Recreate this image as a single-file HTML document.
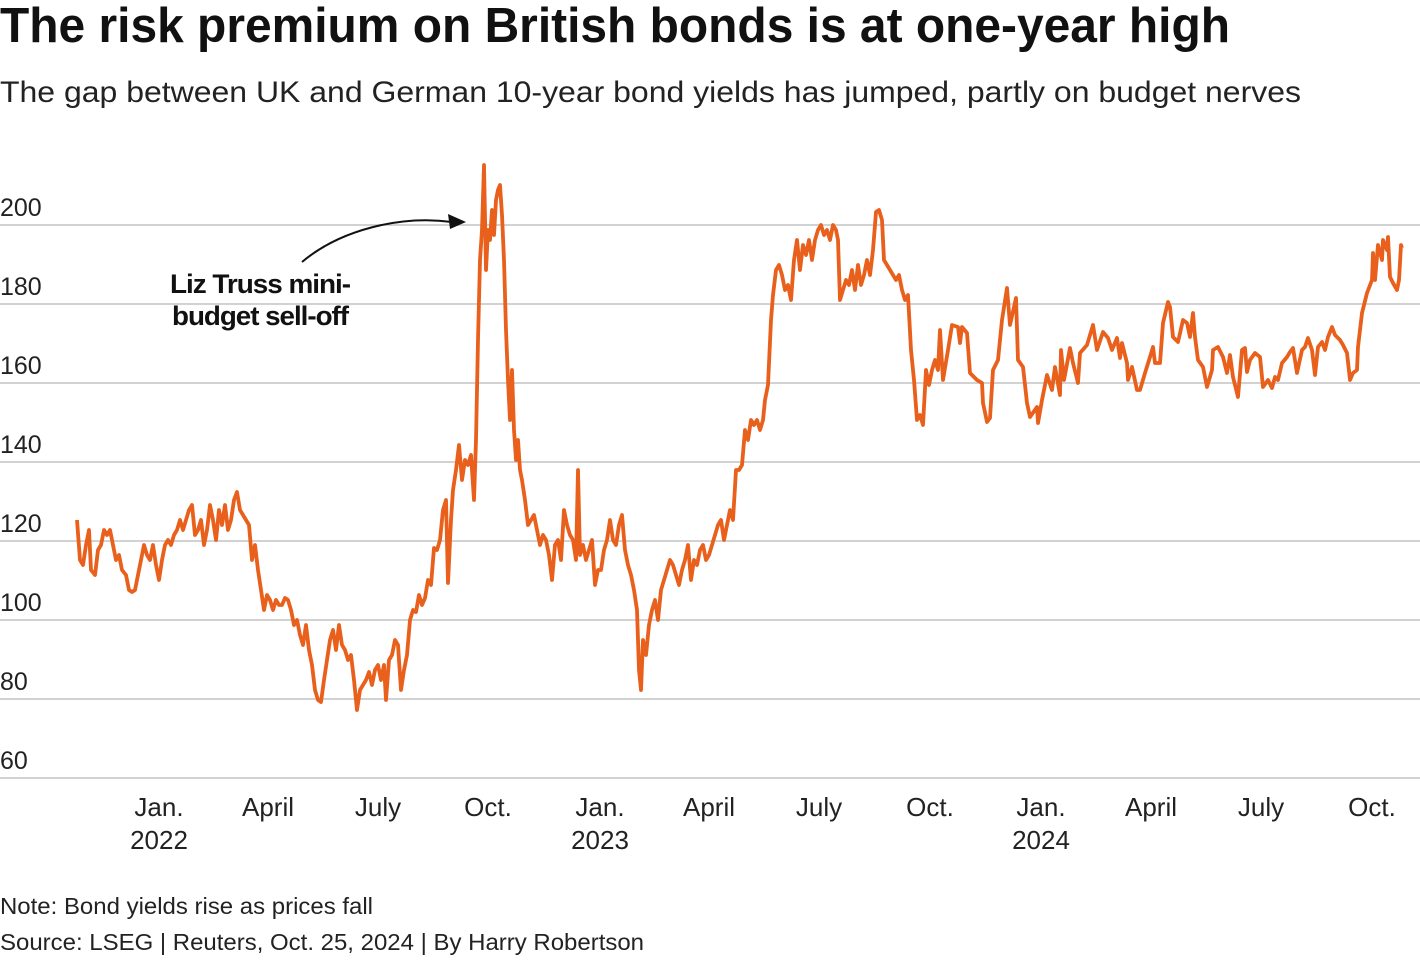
<!DOCTYPE html>
<html><head><meta charset="utf-8"><style>
body{margin:0;background:#fff;width:1420px;height:960px;overflow:hidden;font-family:"Liberation Sans",Arial,sans-serif;color:#1a1a1a}
</style></head><body>
<svg width="1420" height="960" xmlns="http://www.w3.org/2000/svg" style="position:absolute;left:0;top:0">
<text x="0" y="42" font-size="49" font-weight="bold" textLength="1230" lengthAdjust="spacingAndGlyphs" fill="#111">The risk premium on British bonds is at one-year high</text>
<text x="0" y="102" font-size="30" fill="#222" textLength="1301" lengthAdjust="spacingAndGlyphs">The gap between UK and German 10-year bond yields has jumped, partly on budget nerves</text>
<g stroke="#c4c4c4" stroke-width="1.5">
<line x1="0" y1="225" x2="1420" y2="225"/><line x1="0" y1="304" x2="1420" y2="304"/>
<line x1="0" y1="383" x2="1420" y2="383"/><line x1="0" y1="462" x2="1420" y2="462"/>
<line x1="0" y1="541" x2="1420" y2="541"/><line x1="0" y1="620" x2="1420" y2="620"/>
<line x1="0" y1="699" x2="1420" y2="699"/><line x1="0" y1="778" x2="1420" y2="778"/>
</g>
<g font-size="25" fill="#222">
<text x="0" y="216">200</text><text x="0" y="295">180</text><text x="0" y="374">160</text>
<text x="0" y="453">140</text><text x="0" y="532">120</text><text x="0" y="611">100</text>
<text x="0" y="690">80</text><text x="0" y="769">60</text>
</g>
<g font-size="26" fill="#222" text-anchor="middle">
<text x="159" y="816">Jan.</text><text x="159" y="849">2022</text>
<text x="268" y="816">April</text><text x="378" y="816">July</text><text x="488" y="816">Oct.</text>
<text x="600" y="816">Jan.</text><text x="600" y="849">2023</text>
<text x="709" y="816">April</text><text x="819" y="816">July</text><text x="930" y="816">Oct.</text>
<text x="1041" y="816">Jan.</text><text x="1041" y="849">2024</text>
<text x="1151" y="816">April</text><text x="1261" y="816">July</text><text x="1372" y="816">Oct.</text>
</g>
<text x="0" y="914" font-size="23" fill="#222" textLength="373" lengthAdjust="spacingAndGlyphs">Note: Bond yields rise as prices fall</text>
<text x="0" y="950" font-size="23" fill="#222" textLength="644" lengthAdjust="spacingAndGlyphs">Source: LSEG | Reuters, Oct. 25, 2024 | By Harry Robertson</text>
<g font-size="27" font-weight="bold" fill="#111" letter-spacing="-1">
<text x="170" y="293" textLength="180" lengthAdjust="spacingAndGlyphs">Liz Truss mini-</text><text x="172" y="325" textLength="176" lengthAdjust="spacingAndGlyphs">budget sell-off</text>
</g>
<path d="M302,262 C340,230 400,215 452,222" fill="none" stroke="#111" stroke-width="2"/>
<polygon points="466,222 448,214 450,229" fill="#111"/>
<polyline fill="none" stroke="#e8601c" stroke-width="3.8" stroke-linejoin="round" points="77,520 80,560 83,565 86,545 89,530 91,570 95,575 98,550 101,545 104,530 107,535 110,530 113,545 116,560 119,555 122,570 126,575 129,590 132,592 135,590 138,575 141,560 144,545 147,555 150,560 153,545 156,565 159,580 162,560 165,545 168,540 171,545 174,535 177,530 180,520 183,530 186,520 189,510 192,505 195,535 198,530 201,520 204,545 207,530 210,505 213,520 216,540 219,510 222,525 225,505 228,530 231,520 234,500 237,492 240,510 243,515 246,520 249,525 252,560 255,545 258,570 261,590 264,610 267,595 270,600 273,610 276,600 279,605 282,605 285,598 288,600 291,610 294,625 297,620 300,635 303,645 306,625 309,650 312,665 315,690 318,700 321,702 324,680 327,660 330,640 333,630 336,650 339,625 342,645 345,650 348,660 351,655 354,680 357,710 360,690 363,685 366,680 369,672 372,685 375,670 378,665 381,680 384,665 386,700 389,660 392,655 395,640 398,645 401,690 404,670 407,655 410,620 413,610 416,612 419,595 422,605 425,598 428,580 431,585 434,548 437,550 440,540 443,510 446,500 448,583 451,520 453,490 456,470 459,445 462,480 465,460 468,465 471,455 474,500 476,440 478,340 480,260 482,230 484,165 486,270 488,230 490,240 492,210 494,235 496,200 498,190 500,185 502,215 504,260 506,330 508,380 510,420 512,370 514,430 516,460 518,440 520,470 522,480 525,500 528,525 531,520 534,515 537,530 540,545 543,535 546,540 549,555 552,580 555,545 558,540 561,560 564,510 567,525 570,535 573,540 576,560 578,470 580,555 583,545 586,560 589,550 592,540 595,585 598,570 601,570 604,550 607,540 610,520 613,540 616,545 619,525 622,515 625,550 628,565 631,575 634,590 637,610 639,670 641,690 643,640 646,655 649,625 652,610 655,600 658,620 661,590 664,580 667,570 670,560 673,565 676,575 679,585 682,570 685,560 688,545 691,580 694,560 697,565 700,550 703,545 706,560 709,555 712,545 715,535 718,525 721,520 724,540 727,525 730,510 733,520 736,470 739,470 742,465 745,430 748,440 751,420 754,425 757,420 760,430 763,420 765,400 768,385 771,320 773,295 776,270 779,265 782,275 785,290 788,285 791,300 794,260 797,240 800,270 803,245 806,255 809,240 812,260 815,240 818,230 821,225 824,235 827,230 830,240 833,225 836,230 838,240 840,300 843,290 846,280 849,285 852,270 855,290 858,265 861,285 864,275 867,260 870,275 873,250 876,212 879,210 882,220 884,260 887,265 890,270 893,275 896,280 899,275 902,290 905,300 908,295 911,350 914,380 917,420 920,415 923,425 926,370 929,385 932,370 935,360 938,370 940,330 943,380 948,350 952,325 958,327 960,343 962,327 967,333 970,373 977,380 982,383 983,403 987,422 990,418 993,370 998,360 1002,320 1007,288 1010,325 1016,298 1018,360 1023,367 1027,403 1030,417 1037,407 1038,423 1042,400 1047,375 1052,390 1055,367 1060,395 1061,350 1064,380 1070,348 1073,363 1078,383 1080,353 1087,345 1093,325 1097,350 1103,332 1108,338 1112,350 1117,338 1120,358 1122,343 1127,363 1128,380 1132,367 1137,390 1140,390 1145,373 1150,357 1153,347 1155,363 1160,363 1163,323 1168,302 1170,307 1173,337 1178,342 1183,320 1187,323 1190,337 1193,313 1195,337 1198,360 1203,367 1207,387 1212,370 1213,350 1218,347 1223,357 1227,373 1230,355 1233,377 1238,397 1242,350 1245,348 1247,372 1250,360 1255,353 1260,357 1263,387 1268,380 1272,388 1275,377 1278,380 1282,363 1287,357 1290,352 1293,348 1297,373 1302,350 1305,347 1308,338 1312,350 1315,375 1318,347 1322,342 1325,350 1328,337 1332,327 1335,335 1340,340 1343,345 1347,353 1350,380 1353,373 1357,370 1358,347 1362,313 1367,293 1372,280 1373,253 1375,280 1378,245 1382,260 1383,240 1387,250 1388,237 1390,277 1393,283 1397,290 1399,280 1401,245 1402,248"/>
</svg>
</body></html>
